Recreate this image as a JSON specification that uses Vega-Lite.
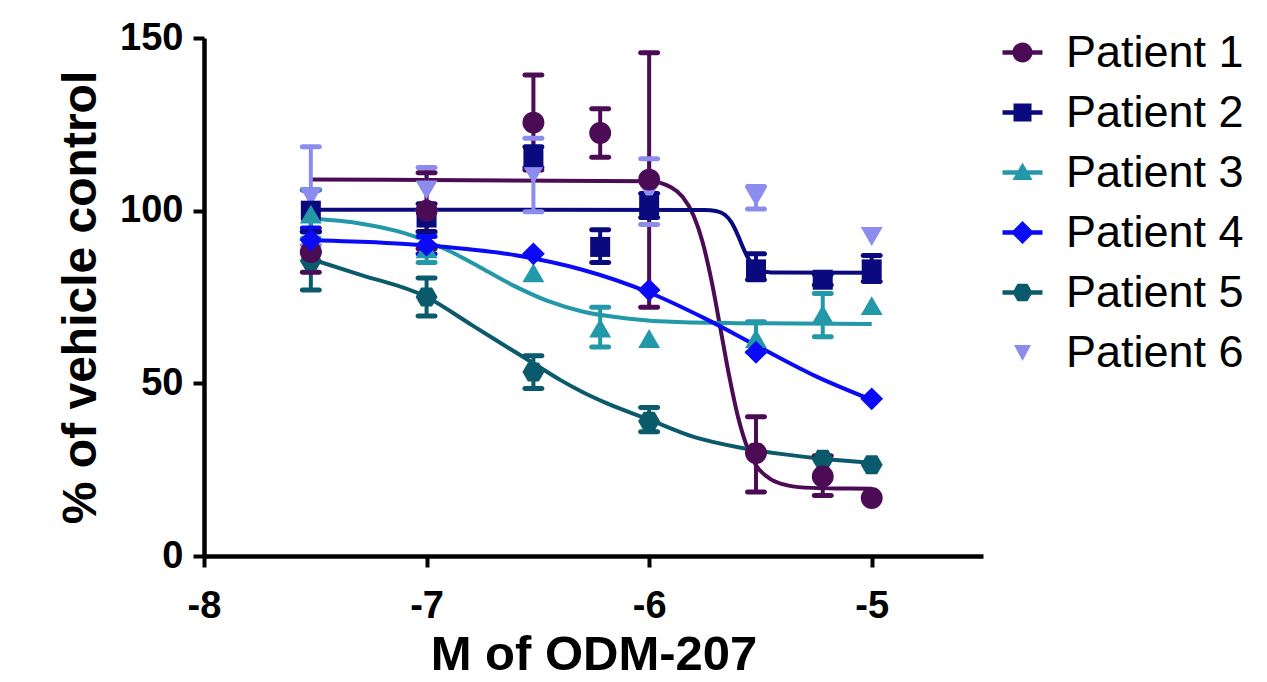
{
  "$schema": "https://vega.github.io/schema/vega-lite/v6.json",
  "width": 779,
  "height": 518,
  "autosize": {"type": "none"},
  "padding": {"left": 204, "top": 38, "right": 284, "bottom": 126},
  "background": "white",
  "config": {
    "view": {"stroke": null},
    "font": "Liberation Sans",
    "axis": {
      "grid": false,
      "labelFlush": false,
      "domainColor": "black",
      "domainWidth": 4.5,
      "tickColor": "black",
      "tickWidth": 4,
      "tickSize": 11,
      "labelFont": "Liberation Sans",
      "labelFontWeight": "bold",
      "labelFontSize": 38,
      "labelColor": "black",
      "titleFont": "Liberation Sans",
      "titleFontWeight": "bold",
      "titleColor": "black"
    },
    "axisX": {"labelPadding": 20, "titlePadding": 5, "titleFontSize": 49},
    "axisY": {"labelPadding": 10, "titlePadding": 14, "titleFontSize": 48}
  },
  "datasets": {
    "curves": [
      {"patient": "Patient 1", "logM": -7.52, "fit": 109.0},
      {"patient": "Patient 1", "logM": -6.0, "fit": 108.5},
      {"patient": "Patient 1", "logM": -5.9, "fit": 106.7},
      {"patient": "Patient 1", "logM": -5.85, "fit": 104.0},
      {"patient": "Patient 1", "logM": -5.8, "fit": 98.5},
      {"patient": "Patient 1", "logM": -5.76, "fit": 90.9},
      {"patient": "Patient 1", "logM": -5.72, "fit": 79.8},
      {"patient": "Patient 1", "logM": -5.68, "fit": 66.0},
      {"patient": "Patient 1", "logM": -5.64, "fit": 52.0},
      {"patient": "Patient 1", "logM": -5.6, "fit": 40.1},
      {"patient": "Patient 1", "logM": -5.56, "fit": 31.6},
      {"patient": "Patient 1", "logM": -5.52, "fit": 26.3},
      {"patient": "Patient 1", "logM": -5.46, "fit": 22.5},
      {"patient": "Patient 1", "logM": -5.4, "fit": 20.8},
      {"patient": "Patient 1", "logM": -5.3, "fit": 19.8},
      {"patient": "Patient 1", "logM": -5.15, "fit": 19.55},
      {"patient": "Patient 1", "logM": -5.0, "fit": 19.5},
      {"patient": "Patient 2", "logM": -7.52, "fit": 100.3},
      {"patient": "Patient 2", "logM": -5.75, "fit": 100.2},
      {"patient": "Patient 2", "logM": -5.7, "fit": 99.9},
      {"patient": "Patient 2", "logM": -5.66, "fit": 98.8},
      {"patient": "Patient 2", "logM": -5.63, "fit": 96.6},
      {"patient": "Patient 2", "logM": -5.6, "fit": 92.7},
      {"patient": "Patient 2", "logM": -5.58, "fit": 89.6},
      {"patient": "Patient 2", "logM": -5.56, "fit": 86.8},
      {"patient": "Patient 2", "logM": -5.53, "fit": 84.0},
      {"patient": "Patient 2", "logM": -5.5, "fit": 82.8},
      {"patient": "Patient 2", "logM": -5.45, "fit": 82.1},
      {"patient": "Patient 2", "logM": -5.0, "fit": 82.0},
      {"patient": "Patient 3", "logM": -7.52, "fit": 97.7},
      {"patient": "Patient 3", "logM": -7.3, "fit": 96.3},
      {"patient": "Patient 3", "logM": -7.1, "fit": 93.5},
      {"patient": "Patient 3", "logM": -6.9, "fit": 88.4},
      {"patient": "Patient 3", "logM": -6.74, "fit": 82.9},
      {"patient": "Patient 3", "logM": -6.6, "fit": 78.0},
      {"patient": "Patient 3", "logM": -6.45, "fit": 73.7},
      {"patient": "Patient 3", "logM": -6.3, "fit": 70.8},
      {"patient": "Patient 3", "logM": -6.1, "fit": 68.8},
      {"patient": "Patient 3", "logM": -5.9, "fit": 67.8},
      {"patient": "Patient 3", "logM": -5.6, "fit": 67.4},
      {"patient": "Patient 3", "logM": -5.0, "fit": 67.2},
      {"patient": "Patient 4", "logM": -7.52, "fit": 91.4},
      {"patient": "Patient 4", "logM": -7.2, "fit": 90.7},
      {"patient": "Patient 4", "logM": -6.9, "fit": 89.4},
      {"patient": "Patient 4", "logM": -6.6, "fit": 87.1},
      {"patient": "Patient 4", "logM": -6.3, "fit": 82.9},
      {"patient": "Patient 4", "logM": -6.0, "fit": 76.3},
      {"patient": "Patient 4", "logM": -5.75, "fit": 68.8},
      {"patient": "Patient 4", "logM": -5.5, "fit": 60.3},
      {"patient": "Patient 4", "logM": -5.25, "fit": 52.0},
      {"patient": "Patient 4", "logM": -5.0, "fit": 45.2},
      {"patient": "Patient 5", "logM": -7.52, "fit": 86.0},
      {"patient": "Patient 5", "logM": -7.3, "fit": 81.5},
      {"patient": "Patient 5", "logM": -7.0, "fit": 75.0},
      {"patient": "Patient 5", "logM": -6.8, "fit": 67.0},
      {"patient": "Patient 5", "logM": -6.6, "fit": 59.0},
      {"patient": "Patient 5", "logM": -6.5, "fit": 55.0},
      {"patient": "Patient 5", "logM": -6.4, "fit": 51.0},
      {"patient": "Patient 5", "logM": -6.3, "fit": 47.5},
      {"patient": "Patient 5", "logM": -6.2, "fit": 44.5},
      {"patient": "Patient 5", "logM": -6.0, "fit": 39.5},
      {"patient": "Patient 5", "logM": -5.8, "fit": 34.5},
      {"patient": "Patient 5", "logM": -5.6, "fit": 31.5},
      {"patient": "Patient 5", "logM": -5.4, "fit": 29.5},
      {"patient": "Patient 5", "logM": -5.2, "fit": 28.0},
      {"patient": "Patient 5", "logM": -5.0, "fit": 27.0}
    ],
    "points": [
      {"patient": "Patient 6", "logM": -7.52, "value": 104, "lo": 90, "hi": 118.5},
      {"patient": "Patient 6", "logM": -7.0, "value": 106, "lo": 100, "hi": 112.5},
      {"patient": "Patient 6", "logM": -6.52, "value": 110.5, "lo": 99.7, "hi": 121},
      {"patient": "Patient 6", "logM": -6.0, "value": 105.5, "lo": 96, "hi": 115},
      {"patient": "Patient 6", "logM": -5.52, "value": 104, "lo": 100.5, "hi": 107},
      {"patient": "Patient 6", "logM": -5.0, "value": 92.5},
      {"patient": "Patient 5", "logM": -7.52, "value": 85.5, "lo": 77, "hi": 94},
      {"patient": "Patient 5", "logM": -7.0, "value": 75, "lo": 69.5, "hi": 80.5},
      {"patient": "Patient 5", "logM": -6.52, "value": 53.3, "lo": 48.5, "hi": 58},
      {"patient": "Patient 5", "logM": -6.0, "value": 39, "lo": 36, "hi": 43},
      {"patient": "Patient 5", "logM": -5.52, "value": 30},
      {"patient": "Patient 5", "logM": -5.22, "value": 28},
      {"patient": "Patient 5", "logM": -5.0, "value": 26.4},
      {"patient": "Patient 2", "logM": -7.52, "value": 100, "lo": 94, "hi": 106},
      {"patient": "Patient 2", "logM": -7.0, "value": 98, "lo": 94, "hi": 102},
      {"patient": "Patient 2", "logM": -6.52, "value": 115.5, "lo": 112.5, "hi": 118.5},
      {"patient": "Patient 2", "logM": -6.22, "value": 89.5, "lo": 85, "hi": 94.5},
      {"patient": "Patient 2", "logM": -6.0, "value": 101.5, "lo": 98, "hi": 105},
      {"patient": "Patient 2", "logM": -5.52, "value": 83, "lo": 80, "hi": 87.5},
      {"patient": "Patient 2", "logM": -5.22, "value": 80, "lo": 78.5, "hi": 81.5},
      {"patient": "Patient 2", "logM": -5.0, "value": 83, "lo": 79.5, "hi": 87},
      {"patient": "Patient 1", "logM": -7.52, "value": 88, "lo": 82.2, "hi": 93.8},
      {"patient": "Patient 1", "logM": -7.0, "value": 100, "lo": 89, "hi": 111},
      {"patient": "Patient 1", "logM": -6.52, "value": 125.5, "lo": 111.8, "hi": 139.3},
      {"patient": "Patient 1", "logM": -6.22, "value": 122.5, "lo": 115.5, "hi": 129.5},
      {"patient": "Patient 1", "logM": -6.0, "value": 109, "lo": 72, "hi": 145.7},
      {"patient": "Patient 1", "logM": -5.52, "value": 29.8, "lo": 18.5, "hi": 40.3},
      {"patient": "Patient 1", "logM": -5.22, "value": 23, "lo": 17.5, "hi": 29},
      {"patient": "Patient 1", "logM": -5.0, "value": 16.8},
      {"patient": "Patient 3", "logM": -7.52, "value": 99, "lo": 92, "hi": 106},
      {"patient": "Patient 3", "logM": -7.0, "value": 89, "lo": 85, "hi": 93.5},
      {"patient": "Patient 3", "logM": -6.52, "value": 82},
      {"patient": "Patient 3", "logM": -6.22, "value": 66, "lo": 60.5, "hi": 72},
      {"patient": "Patient 3", "logM": -6.0, "value": 63},
      {"patient": "Patient 3", "logM": -5.52, "value": 63, "lo": 59, "hi": 67.8},
      {"patient": "Patient 3", "logM": -5.22, "value": 70, "lo": 63.5, "hi": 76},
      {"patient": "Patient 3", "logM": -5.0, "value": 72.5},
      {"patient": "Patient 4", "logM": -7.52, "value": 91.5, "lo": 88, "hi": 95},
      {"patient": "Patient 4", "logM": -7.0, "value": 90, "lo": 87.5, "hi": 92.5},
      {"patient": "Patient 4", "logM": -6.52, "value": 87.5},
      {"patient": "Patient 4", "logM": -6.0, "value": 77},
      {"patient": "Patient 4", "logM": -5.52, "value": 59},
      {"patient": "Patient 4", "logM": -5.0, "value": 45.5}
    ]
  },
  "encoding": {
    "x": {
      "field": "logM",
      "type": "quantitative",
      "scale": {"domain": [-8, -4.5], "nice": false, "zero": false},
      "axis": {"values": [-8, -7, -6, -5], "title": "M of ODM-207", "labelExpr": "'' + datum.value"}
    },
    "color": {
      "field": "patient",
      "type": "nominal",
      "scale": {
        "domain": ["Patient 1", "Patient 2", "Patient 3", "Patient 4", "Patient 5", "Patient 6"],
        "range": ["#4B0C55", "#0A0A7E", "#2398A8", "#0A0AF5", "#0B5A6B", "#8C8CEF"]
      },
      "legend": {
        "orient": "none",
        "legendX": 796,
        "legendY": -8,
        "title": null,
        "padding": 0,
        "symbolSize": 400,
        "labelFont": "Liberation Sans",
        "labelFontSize": 45,
        "labelColor": "black",
        "labelLimit": 400,
        "labelOffset": 21,
        "rowPadding": 14,
        "encode": {
          "symbols": {
            "update": {
              "shape": {"signal": "datum.value === 'Patient 1' ? 'M-2,-0.22H2V0.22H-2Z M-1,0A1,1 0 1,1 1,0A1,1 0 1,1 -1,0Z' : datum.value === 'Patient 2' ? 'M-2,-0.22H2V0.22H-2Z M-0.9,-0.9H0.9V0.9H-0.9Z' : datum.value === 'Patient 3' ? 'M-2,-0.22H2V0.22H-2Z M0,-1L1,0.75L-1,0.75Z' : datum.value === 'Patient 4' ? 'M-2,-0.22H2V0.22H-2Z M0,-1.15L1.15,0L0,1.15L-1.15,0Z' : datum.value === 'Patient 5' ? 'M-2,-0.22H2V0.22H-2Z M-1,0L-0.5,-0.87L0.5,-0.87L1,0L0.5,0.87L-0.5,0.87Z' : 'M-0.85,-0.75L0.85,-0.75L0,0.85Z'"},
              "fill": {"scale": "color", "field": "value"},
              "fillOpacity": {"value": 1},
              "opacity": {"value": 1},
              "strokeWidth": {"value": 0}
            }
          }
        }
      }
    }
  },
  "layer": [
    {
      "data": {"name": "curves"},
      "mark": {"type": "line", "strokeWidth": 4, "interpolate": "monotone"},
      "encoding": {
        "y": {"field": "fit", "type": "quantitative", "scale": {"domain": [0, 150], "nice": false}, "axis": {"values": [0, 50, 100, 150]}, "title": "% of vehicle control"}
      }
    },
    {
      "data": {"name": "points"},
      "transform": [{"filter": "isValid(datum.lo)"}],
      "mark": {"type": "rule", "strokeWidth": 4},
      "encoding": {
        "y": {"field": "lo", "type": "quantitative", "title": "% of vehicle control"},
        "y2": {"field": "hi"}
      }
    },
    {
      "data": {"name": "points"},
      "transform": [{"filter": "isValid(datum.hi)"}],
      "mark": {"type": "tick", "orient": "horizontal", "size": 22, "thickness": 5, "cornerRadius": 2.5, "opacity": 1},
      "encoding": {
        "y": {"field": "hi", "type": "quantitative", "title": "% of vehicle control"}
      }
    },
    {
      "data": {"name": "points"},
      "transform": [{"filter": "isValid(datum.lo)"}],
      "mark": {"type": "tick", "orient": "horizontal", "size": 22, "thickness": 5, "cornerRadius": 2.5, "opacity": 1},
      "encoding": {
        "y": {"field": "lo", "type": "quantitative", "title": "% of vehicle control"}
      }
    },
    {
      "data": {"name": "points"},
      "transform": [{"filter": "datum.patient === 'Patient 6'"}],
      "mark": {"type": "point", "shape": "triangle-down", "filled": true, "opacity": 1, "size": 480},
      "encoding": {"y": {"field": "value", "type": "quantitative", "title": "% of vehicle control"}}
    },
    {
      "data": {"name": "points"},
      "transform": [{"filter": "datum.patient === 'Patient 5'"}],
      "mark": {"type": "point", "shape": "M-1,0L-0.5,-0.866L0.5,-0.866L1,0L0.5,0.866L-0.5,0.866Z", "filled": true, "opacity": 1, "size": 480},
      "encoding": {"y": {"field": "value", "type": "quantitative", "title": "% of vehicle control"}}
    },
    {
      "data": {"name": "points"},
      "transform": [{"filter": "datum.patient === 'Patient 2'"}],
      "mark": {"type": "point", "shape": "square", "filled": true, "opacity": 1, "size": 400},
      "encoding": {"y": {"field": "value", "type": "quantitative", "title": "% of vehicle control"}}
    },
    {
      "data": {"name": "points"},
      "transform": [{"filter": "datum.patient === 'Patient 1'"}],
      "mark": {"type": "point", "shape": "circle", "filled": true, "opacity": 1, "size": 480},
      "encoding": {"y": {"field": "value", "type": "quantitative", "title": "% of vehicle control"}}
    },
    {
      "data": {"name": "points"},
      "transform": [{"filter": "datum.patient === 'Patient 3'"}],
      "mark": {"type": "point", "shape": "triangle-up", "filled": true, "opacity": 1, "size": 480},
      "encoding": {"y": {"field": "value", "type": "quantitative", "title": "% of vehicle control"}}
    },
    {
      "data": {"name": "points"},
      "transform": [{"filter": "datum.patient === 'Patient 4'"}],
      "mark": {"type": "point", "shape": "diamond", "filled": true, "opacity": 1, "size": 520},
      "encoding": {"y": {"field": "value", "type": "quantitative", "title": "% of vehicle control"}}
    }
  ]
}
